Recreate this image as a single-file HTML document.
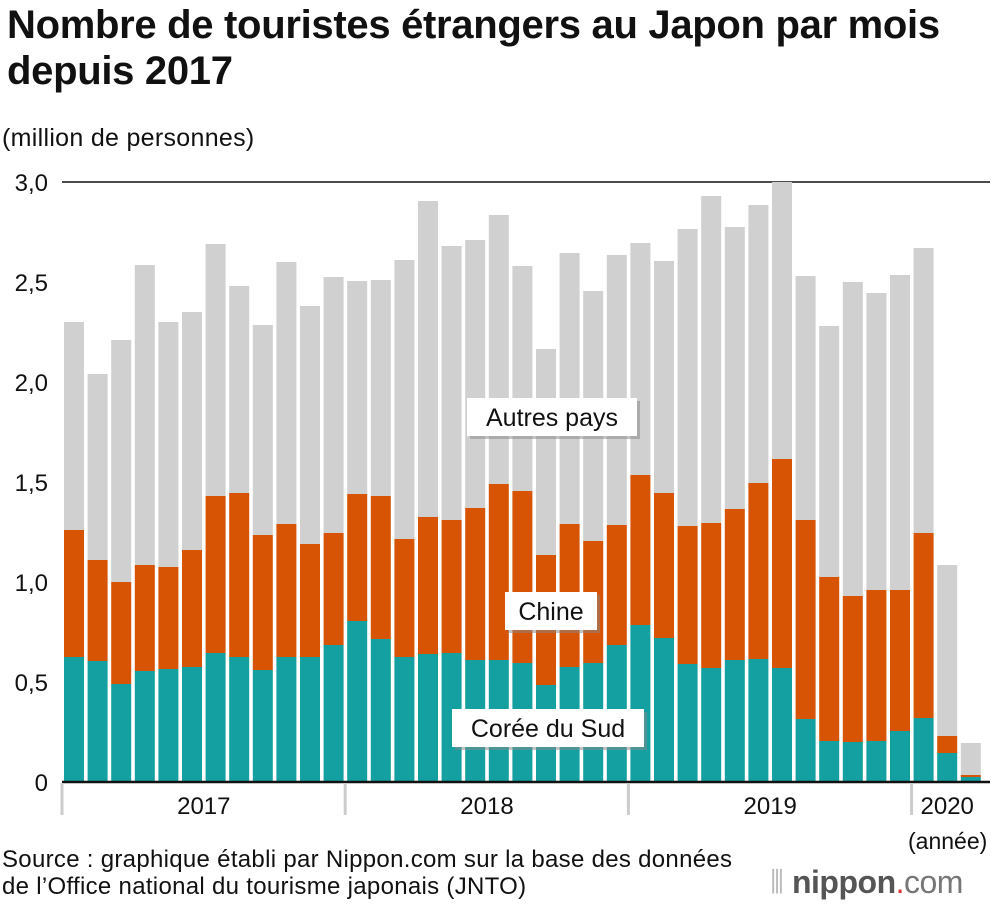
<!DOCTYPE html>
<html><head><meta charset="utf-8"><style>
body{margin:0;background:#fff;font-family:"Liberation Sans",sans-serif;}
#wrap{position:relative;width:1000px;height:906px;overflow:hidden;}
.t{position:absolute;white-space:nowrap;color:#111;}
</style></head><body><div id="wrap">
<div class="t" style="left:7px;top:2px;font-size:40px;font-weight:bold;line-height:46px;letter-spacing:-0.3px">Nombre de touristes étrangers au Japon par mois<br>depuis 2017</div>
<div class="t" style="left:2px;top:124px;font-size:25px;letter-spacing:0.3px">(million de personnes)</div>
<svg id="c" width="1000" height="906" style="position:absolute;left:0;top:0"></svg>
<div class="t" style="left:908px;top:828px;font-size:23px">(année)</div>
<div class="t" style="left:2px;top:846px;font-size:24px;line-height:27px;letter-spacing:0.3px">Source : graphique établi par Nippon.com sur la base des données<br>de l’Office national du tourisme japonais (JNTO)</div>
<div class="t" style="left:770px;top:864px;font-size:32px;color:#666;letter-spacing:-0.5px"><span style="color:#bbb">⦀ </span><b style="color:#555">nippon</b><span style="color:#d33">.</span><span style="color:#777">com</span></div>
</div>
<script>
const years=["2017","2018","2019","2020"];
const yTicks=[0,0.5,1.0,1.5,2.0,2.5,3.0];
const korea=[.625,.605,.49,.555,.565,.575,.645,.625,.56,.625,.625,.685,
.805,.715,.625,.64,.645,.61,.61,.595,.485,.575,.595,.685,
.785,.72,.59,.57,.61,.615,.57,.315,.205,.20,.205,.255,
.32,.145,.025];
const china=[.635,.505,.51,.53,.51,.585,.785,.82,.675,.665,.565,.56,
.635,.715,.59,.685,.665,.76,.88,.86,.65,.715,.61,.60,
.75,.725,.69,.725,.755,.88,1.045,.995,.82,.73,.755,.705,
.925,.085,.01];
const others=[1.04,.93,1.21,1.5,1.225,1.19,1.26,1.035,1.05,1.31,1.19,1.28,
1.065,1.08,1.395,1.58,1.37,1.34,1.345,1.125,1.03,1.355,1.25,1.35,
1.16,1.16,1.485,1.635,1.41,1.39,1.385,1.22,1.255,1.57,1.485,1.575,
1.425,.855,.16];
const svg=document.getElementById('c');const NS='http://www.w3.org/2000/svg';
const yS=v=>782-v*200;const xS=i=>64+i*23.6;const BW=20;
function mk(t,a){const e=document.createElementNS(NS,t);for(const k in a)e.setAttribute(k,a[k]);svg.appendChild(e);return e;}
yTicks.forEach(v=>{
 const l=mk('text',{x:48,y:yS(v)+9,'text-anchor':'end','font-size':24,fill:'#111','font-family':'Liberation Sans'});
 l.textContent=v===0?'0':v.toFixed(1).replace('.',',');
 
 
});
const topLine=mk('line',{x1:62,x2:990,y1:yS(3),y2:yS(3),stroke:'#111','stroke-width':1.5});


korea.forEach((k,i)=>{
 const c=china[i],o=others[i];
 const r1=mk('rect',{x:xS(i),y:yS(k),width:BW,height:k*200,fill:'#14a0a0'});
 
 
 const r2=mk('rect',{x:xS(i),y:yS(k+c),width:BW,height:c*200,fill:'#d75404'});
 
 
 const r3=mk('rect',{x:xS(i),y:yS(k+c+o),width:BW,height:o*200,fill:'#d0d0d0'});
 
 
});
const base=mk('line',{x1:62,x2:990,y1:782,y2:782,stroke:'#111','stroke-width':2.5});


years.forEach((yr,j)=>{
 const sx=xS(j*12)-2;
 const s=mk('line',{x1:sx,x2:sx,y1:783,y2:815,stroke:'#ccc','stroke-width':3});
 
 
 const n=j<3?12:3;
 const t=mk('text',{x:(xS(j*12)+xS(j*12+n-1)+BW)/2,y:814,'text-anchor':'middle','font-size':24,fill:'#111','font-family':'Liberation Sans'});
 t.textContent=yr;
 
 
});
const labels=[["Autres pays",467,398,170],["Chine",505,592,92],["Corée du Sud",452,709,192]];
labels.forEach(([txt,lx,ly,w])=>{
 const sh=mk('rect',{x:lx+3,y:ly+3,width:w,height:38,fill:'#888',opacity:0.5});
 
 
 const b=mk('rect',{x:lx,y:ly,width:w,height:38,fill:'#fff'});
 
 
 const t=mk('text',{x:lx+w/2,y:ly+28,'text-anchor':'middle','font-size':25,fill:'#111','font-family':'Liberation Sans'});
 t.textContent=txt;
 
 
});
</script></body></html>
